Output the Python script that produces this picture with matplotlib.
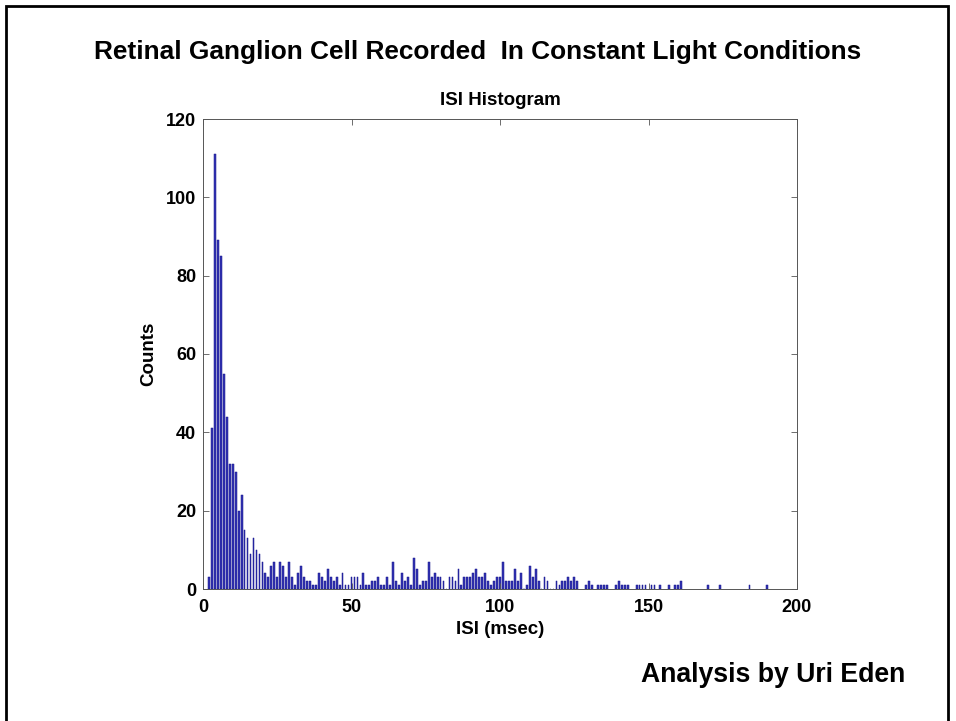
import matplotlib
matplotlib.use("Agg")
import matplotlib.pyplot as plt
from matplotlib.patches import Rectangle

plt.rcParams['font.family'] = ['Liberation Sans', 'DejaVu Sans']

# ISI histogram counts, one bin per msec (bin centre -> count)
isi_early = list(range(2, 40))
counts_early = [3, 41, 111, 89, 85, 55, 44, 32, 32, 30, 20, 24, 15, 13, 9, 13,
                10, 9, 7, 4, 3, 6, 7, 3, 7, 6, 3, 7, 3, 1, 4, 6, 3, 2, 2, 1, 1, 4]

isi_mid = list(range(40, 80))
counts_mid = [3, 2, 5, 3, 2, 3, 1, 4, 1, 1, 3, 3, 3, 1, 4, 1, 1, 2, 2, 3,
              1, 1, 3, 1, 7, 2, 1, 4, 2, 3, 1, 8, 5, 1, 2, 2, 7, 3, 4, 3]

isi_late = list(range(80, 120))
counts_late = [3, 2, 0, 3, 3, 2, 5, 1, 3, 3, 3, 4, 5, 3, 3, 4, 2, 1, 2, 3,
               3, 7, 2, 2, 2, 5, 2, 4, 0, 1, 6, 3, 5, 2, 0, 3, 2, 0, 0, 2]

isi_tail = [120, 121, 122, 123, 124, 125, 126, 129, 130, 131, 133, 134, 135,
            136, 139, 140, 141, 142, 143, 146, 147, 148, 149, 151, 152, 154,
            157, 159, 160, 161, 170, 174, 184, 190]
counts_tail = [1, 2, 2, 3, 2, 3, 2, 1, 2, 1, 1, 1, 1,
               1, 1, 2, 1, 1, 1, 1, 1, 1, 1, 1, 1, 1,
               1, 1, 1, 2, 1, 1, 1, 1]

isi = isi_early + isi_mid + isi_late + isi_tail
counts = counts_early + counts_mid + counts_late + counts_tail

fig = plt.figure(figsize=(9.56, 7.21), dpi=100)

# slide frame
fig.patches.append(Rectangle((6 / 956, -0.1), 942 / 956, 1.1 - 6 / 721,
                             transform=fig.transFigure, fill=False,
                             edgecolor='black', linewidth=2))

fig.text(0.5, 1 - 52 / 721, 'Retinal Ganglion Cell Recorded  In Constant Light Conditions',
         ha='center', va='center', fontsize=18.9, fontweight='bold')
fig.text(905 / 956, 1 - 675 / 721, 'Analysis by Uri Eden',
         ha='right', va='center', fontsize=19.2, fontweight='bold')

ax = fig.add_axes([203 / 956, 1 - 589 / 721, 594 / 956, 470 / 721])
ax.bar(isi, counts, width=0.6, color='#3434b4', edgecolor='#14148a',
       linewidth=0.35)

ax.set_xlim(0, 200)
ax.set_ylim(0, 120)
ax.set_xticks([0, 50, 100, 150, 200])
ax.set_yticks([0, 20, 40, 60, 80, 100, 120])
ax.tick_params(direction='in', top=True, right=True, length=4, width=0.6,
               color='#555555', labelsize=13, pad=5)
ax.tick_params(axis='x', pad=7)
for lbl in ax.get_xticklabels() + ax.get_yticklabels():
    lbl.set_fontweight('bold')
for s in ax.spines.values():
    s.set_linewidth(0.7)
    s.set_color('#555555')

ax.set_title('ISI Histogram', fontsize=13.5, fontweight='bold', pad=10)
ax.set_xlabel('ISI (msec)', fontsize=13.5, fontweight='bold', labelpad=4)
ax.set_ylabel('Counts', fontsize=13.5, fontweight='bold', labelpad=6)

fig.savefig('out.png', dpi=100)
